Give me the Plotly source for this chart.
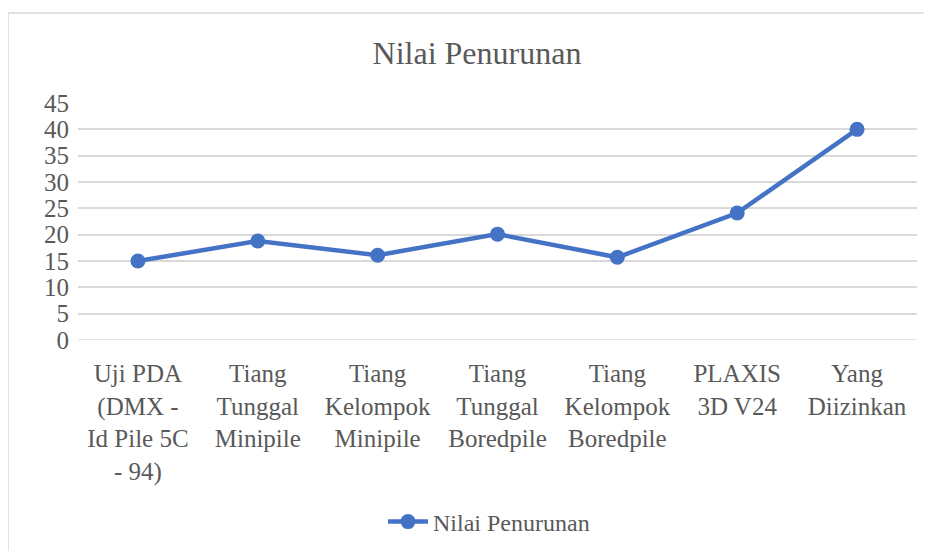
import plotly.graph_objects as go

categories = [
    "Uji PDA<br>(DMX -<br>Id Pile 5C<br>- 94)",
    "Tiang<br>Tunggal<br>Minipile",
    "Tiang<br>Kelompok<br>Minipile",
    "Tiang<br>Tunggal<br>Boredpile",
    "Tiang<br>Kelompok<br>Boredpile",
    "PLAXIS<br>3D V24",
    "Yang<br>Diizinkan",
]
values = [15.0, 18.8, 16.1, 20.1, 15.7, 24.1, 40.0]
y_ticks = [0, 5, 10, 15, 20, 25, 30, 35, 40, 45]
series_name = "Nilai Penurunan"
title_text = "Nilai Penurunan"

FONT = "Times New Roman"
GRAY = "#595959"
BLUE = "#4472C4"

OFF = 8  # page body margin
W, H = 932 - OFF, 551 - OFF
ML, MR, MT, MB = 78 - OFF, 15, 103 - OFF, 211
pw = W - ML - MR
ph = H - MT - MB

fig = go.Figure()
fig.add_trace(go.Scatter(
    x=list(range(len(categories))), y=values, name=series_name,
    mode="lines+markers",
    line=dict(color=BLUE, width=4.5),
    marker=dict(color=BLUE, size=15),
))

# chart-area border (left and top edges visible)
bx = (8 - OFF - ML) / pw
by = (H - MB - (13 - OFF)) / ph
fig.add_shape(type="line", xref="paper", yref="paper",
              x0=bx, x1=bx, y0=by, y1=-3, line=dict(color="#d9d9d9", width=1.5))
fig.add_shape(type="line", xref="paper", yref="paper",
              x0=bx, x1=2, y0=by, y1=by, line=dict(color="#d9d9d9", width=1.5))

fig.update_layout(
    width=W, height=H,
    margin=dict(l=ML, r=MR, t=MT, b=MB),
    paper_bgcolor="white", plot_bgcolor="white",
    font=dict(family=FONT, color=GRAY, size=25),
    title=dict(text=title_text, x=(477 - OFF) / W, xanchor="center",
               y=1 - (53 - OFF) / H, yanchor="middle", yref="container",
               font=dict(size=32, color=GRAY, family=FONT)),
    showlegend=True,
    legend=dict(orientation="h", x=(489 - OFF) / W, xanchor="center", xref="container",
                y=(551 - 522) / H, yanchor="middle", yref="container",
                font=dict(size=24, color=GRAY, family=FONT),
                itemwidth=40),
    xaxis=dict(
        tickmode="array", tickvals=list(range(len(categories))), ticktext=categories,
        range=[-0.5, len(categories) - 0.5],
        showgrid=False, zeroline=False, showline=False, ticks="",
        tickangle=0, tickfont=dict(size=25, color=GRAY, family=FONT),
        ticklabelstandoff=16,
    ),
    yaxis=dict(
        range=[0, 45], tickmode="array", tickvals=y_ticks,
        showgrid=True, gridcolor="#d9d9d9", gridwidth=1.5,
        zeroline=False, showline=False, ticks="",
        tickfont=dict(size=25, color=GRAY, family=FONT),
        ticklabelstandoff=8,
    ),
)
fig.add_shape(type="line", xref="paper", yref="y", x0=0, x1=1, y0=0, y1=0,
              line=dict(color="#d9d9d9", width=1.5), layer="below")

fig.write_html("out.html")
